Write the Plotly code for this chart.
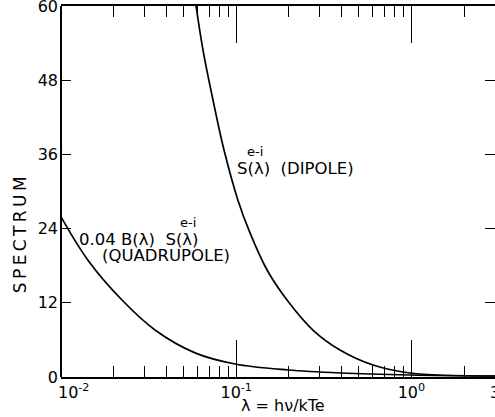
import plotly.graph_objects as go
import numpy as np

# Dipole curve S^{e-i}(λ)
dip_x = [0.059, 0.0646, 0.0737, 0.0852, 0.1023, 0.1199, 0.150, 0.195, 0.274, 0.391, 0.604, 0.982, 3.0]
dip_y = [60.0, 52.9, 44.8, 36.7, 28.6, 23.3, 17.3, 12.45, 7.6, 4.37, 1.94, 0.65, 0.16]
# Quadrupole curve 0.04 B(λ) S^{e-i}(λ)
quad_x = [0.01, 0.01425, 0.0223, 0.0344, 0.0582, 0.0985, 0.1975, 0.391, 0.982, 3.0]
quad_y = [25.9, 18.9, 12.45, 7.6, 3.9, 2.1, 1.13, 0.65, 0.32, 0.16]

NB = "\u00a0"
x_tickvals = [0.01, 0.1, 1, 3]
x_ticktext = [NB * 5 + "10<sup>-2</sup>", "10<sup>-1</sup>", "10<sup>0</sup>", "3"]
y_tickvals = [0, 12, 24, 36, 48, 60]
x_minor = [m * d for d in [0.01, 0.1] for m in range(2, 10)] + [2]

FONT = "DejaVu Sans"

fig = go.Figure()
for xs, ys in [(dip_x, dip_y), (quad_x, quad_y)]:
    fig.add_trace(go.Scatter(x=xs, y=ys, mode="lines",
                             line=dict(color="black", width=1.7, shape="spline", smoothing=1.0),
                             showlegend=False, hoverinfo="skip", cliponaxis=True))

fig.update_layout(
    width=495, height=417,
    margin=dict(l=61, r=0, t=6, b=40),
    paper_bgcolor="white", plot_bgcolor="white",
    font=dict(family=FONT, color="black", size=15),
    xaxis=dict(type="log", range=[-2, np.log10(3)], tickmode="array",
               tickvals=x_tickvals, ticktext=x_ticktext, automargin=False,
               ticks="inside", ticklen=37, tickwidth=1.3, tickcolor="black",
               showline=True, linecolor="black", linewidth=2, mirror="ticks",
               showgrid=False, zeroline=False, ticklabelstandoff=0,
               ticklabeloverflow="allow",
               minor=dict(tickmode="array", tickvals=x_minor, ticks="inside",
                          ticklen=11, tickwidth=1.3, tickcolor="black", showgrid=False),
               tickfont=dict(size=16)),
    yaxis=dict(range=[0, 60], tickmode="array", tickvals=y_tickvals, automargin=False,
               ticks="inside", ticklen=10, tickwidth=1.3, tickcolor="black",
               showline=False, mirror="ticks", ticklabeloverflow="allow",
               showgrid=False, zeroline=False, ticklabelstandoff=2,
               tickfont=dict(size=16)),
)

# left axis spine (right spine is not drawn in the reference)
fig.add_shape(type="line", xref="paper", yref="paper", x0=0, x1=0, y0=0, y1=1,
              line=dict(color="black", width=2), layer="above")

ann = dict(showarrow=False, font=dict(family=FONT, size=16.5, color="black"))
sup = dict(showarrow=False, font=dict(family=FONT, size=13, color="black"))
fig.add_annotation(x=-1.006, y=33.8, xref="x", yref="y", text="S(λ)  (DIPOLE)",
                   xanchor="left", yanchor="middle", **ann)
fig.add_annotation(x=-0.949, y=36.4, xref="x", yref="y", text="e-i",
                   xanchor="left", yanchor="middle", **sup)
fig.add_annotation(x=-1.909, y=22.3, xref="x", yref="y", text="0.04 B(λ)  S(λ)",
                   xanchor="left", yanchor="middle", **ann)
fig.add_annotation(x=-1.331, y=25.0, xref="x", yref="y", text="e-i",
                   xanchor="left", yanchor="middle", **sup)
fig.add_annotation(x=-1.777, y=19.6, xref="x", yref="y", text="(QUADRUPOLE)",
                   xanchor="left", yanchor="middle", **ann)
fig.add_annotation(x=-0.0945, y=0.385, xref="paper", yref="paper",
                   text="\u2009".join("SPECTRUM"),
                   textangle=-90, xanchor="center", yanchor="middle",
                   showarrow=False, font=dict(family=FONT, size=17, color="black"))
fig.add_annotation(x=0.511, y=-0.078, xref="paper", yref="paper", text="λ = hν/kTe",
                   xanchor="center", yanchor="middle",
                   showarrow=False, font=dict(family=FONT, size=16, color="black"))

fig.write_html("out.html", config={"displayModeBar": False},
               post_script="document.body.style.margin='0px';document.body.style.overflow='hidden';")
